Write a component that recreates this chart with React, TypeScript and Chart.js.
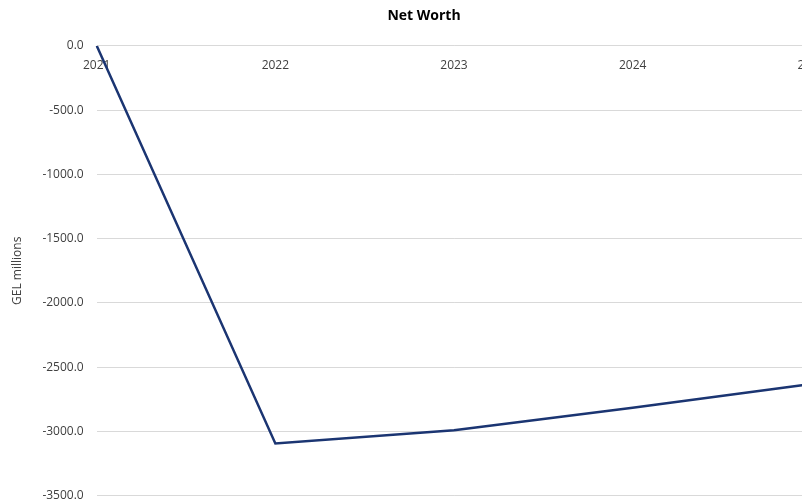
import React, { useEffect, useRef } from "react";
import { Chart, registerables } from "chart.js";

Chart.register(...registerables);

const years = ["2021", "2022", "2023", "2024", "2025"];
const netWorth = [0, -3093, -2990, -2815, -2630];
const yTicks = { min: -3500, max: 0, step: 500 };

export default function App() {
  const ref = useRef<HTMLCanvasElement | null>(null);
  useEffect(() => {
    if (!ref.current) return;
    const font = "'Open Sans', 'Noto Sans', sans-serif";
    const chart = new Chart(ref.current, {
      type: "line",
      data: {
        labels: years,
        datasets: [
          {
            label: "Net Worth",
            data: netWorth,
            borderColor: "#1b3572",
            borderWidth: 2.5,
            pointRadius: 0,
            tension: 0,
            fill: false,
          },
        ],
      },
      options: {
        responsive: false,
        animation: false,
        layout: { padding: { top: 0, right: 0, left: 2, bottom: 0 } },
        plugins: {
          legend: { display: false },
          tooltip: { enabled: false },
          title: {
            display: true,
            text: "Net Worth",
            color: "#000",
            font: { family: font, size: 14, weight: "bold" },
            padding: { top: 0, bottom: 21 },
          },
        },
        scales: {
          x: {
            type: "category",
            position: { y: 0 },
            offset: false,
            grid: { display: false, drawTicks: false },
            border: { display: false },
            ticks: {
              color: "#404040",
              font: { family: font, size: 12 },
              padding: 13,
              maxRotation: 0,
              autoSkip: false,
            },
          },
          y: {
            min: yTicks.min,
            max: yTicks.max,
            grid: { color: "#d9d9d9", lineWidth: 1, drawTicks: false },
            border: { display: false },
            ticks: {
              stepSize: yTicks.step,
              color: "#404040",
              font: { family: font, size: 12 },
              padding: 13,
              callback: (v: any) => Number(v).toFixed(1),
            },
            title: {
              display: true,
              text: "GEL millions",
              color: "#404040",
              font: { family: font, size: 12 },
              padding: { top: 0, bottom: 5 },
            },
          },
        },
      },
    });
    return () => chart.destroy();
  }, []);
  return (
    <div style={{ width: 797, height: 495, overflow: "hidden" }}>
      <canvas ref={ref} width={830} height={508} style={{ display: "block" }} />
    </div>
  );
}
